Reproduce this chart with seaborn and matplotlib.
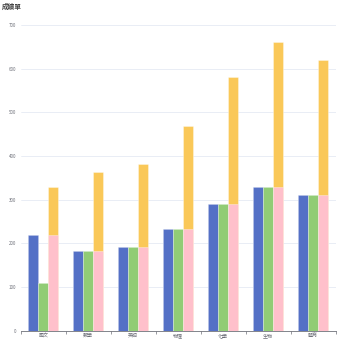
import matplotlib
matplotlib.use("Agg")
import matplotlib.pyplot as plt
import seaborn as sns
import pandas as pd
import numpy as np

categories = ["國文", "數學", "英語", "物理", "化學", "生物", "體育"]
series_a = [220, 182, 191, 234, 290, 330, 310]   # blue
series_b = [110, 182, 191, 234, 290, 330, 310]   # green
series_c = [220, 182, 191, 234, 290, 330, 310]   # pink (base of stack)
series_d = [110, 182, 191, 234, 290, 330, 310]   # yellow (stacked on pink)
y_ticks = [0, 100, 200, 300, 400, 500, 600, 700]
title = "成績單"

sns.set_theme(style="white")
plt.rcParams['font.family'] = ['Noto Sans CJK TC', 'DejaVu Sans']

c_blue, c_green, c_pink, c_yellow = "#5470c6", "#91cc75", "#ffc0cb", "#fac858"

stack_top = [p + q for p, q in zip(series_c, series_d)]
df_top = pd.DataFrame({
    "cat": categories * 3,
    "s": ["a"] * 7 + ["b"] * 7 + ["c"] * 7,
    "v": series_a + series_b + stack_top,
})
df_base = pd.DataFrame({
    "cat": categories * 3,
    "s": ["a"] * 7 + ["b"] * 7 + ["c"] * 7,
    "v": series_a + series_b + series_c,
})

fig = plt.figure(figsize=(3.5, 3.5), dpi=100)
ax = fig.add_axes([20.7 / 350, 1 - 330.7 / 350, 315 / 350, (330.7 - 25) / 350])

sns.barplot(data=df_top, x="cat", y="v", hue="s", order=categories,
            hue_order=["a", "b", "c"], palette=[c_blue, c_green, c_yellow],
            width=0.667, errorbar=None, ax=ax, legend=False,
            edgecolor=(1, 1, 1, 0.6), linewidth=0.4, saturation=1)
sns.barplot(data=df_base, x="cat", y="v", hue="s", order=categories,
            hue_order=["a", "b", "c"], palette=[c_blue, c_green, c_pink],
            width=0.667, errorbar=None, ax=ax, legend=False,
            edgecolor=(1, 1, 1, 0.6), linewidth=0.4, saturation=1)

ax.set_xlim(-0.5, len(categories) - 0.5)
ax.set_ylim(0, 700)
ax.set_yticks(y_ticks)
ax.set_yticklabels([str(t) for t in y_ticks])
ax.set_xlabel("")
ax.set_ylabel("")

for s in ["top", "right", "left"]:
    ax.spines[s].set_visible(False)
ax.spines["bottom"].set_color("#6E7079")
ax.spines["bottom"].set_linewidth(0.6)

ax.yaxis.grid(True, color="#E0E6F1", linewidth=0.5)
ax.set_axisbelow(True)

ax.tick_params(axis="y", length=0, pad=3, labelsize=3.2, labelcolor="#6E7079")
ax.tick_params(axis="x", which="major", length=0, pad=1.5, labelsize=3.6, labelcolor="#6E7079")
ax.set_xticks(np.arange(-0.5, len(categories), 1.0), minor=True)
ax.tick_params(axis="x", which="minor", length=1.8, width=0.5, color="#6E7079", bottom=True)

fig.text(2 / 350, 1 - 6 / 350, title, fontsize=4.8, fontweight="bold",
         color="#464646", ha="left", va="center")

fig.savefig("out.png", dpi=100)
